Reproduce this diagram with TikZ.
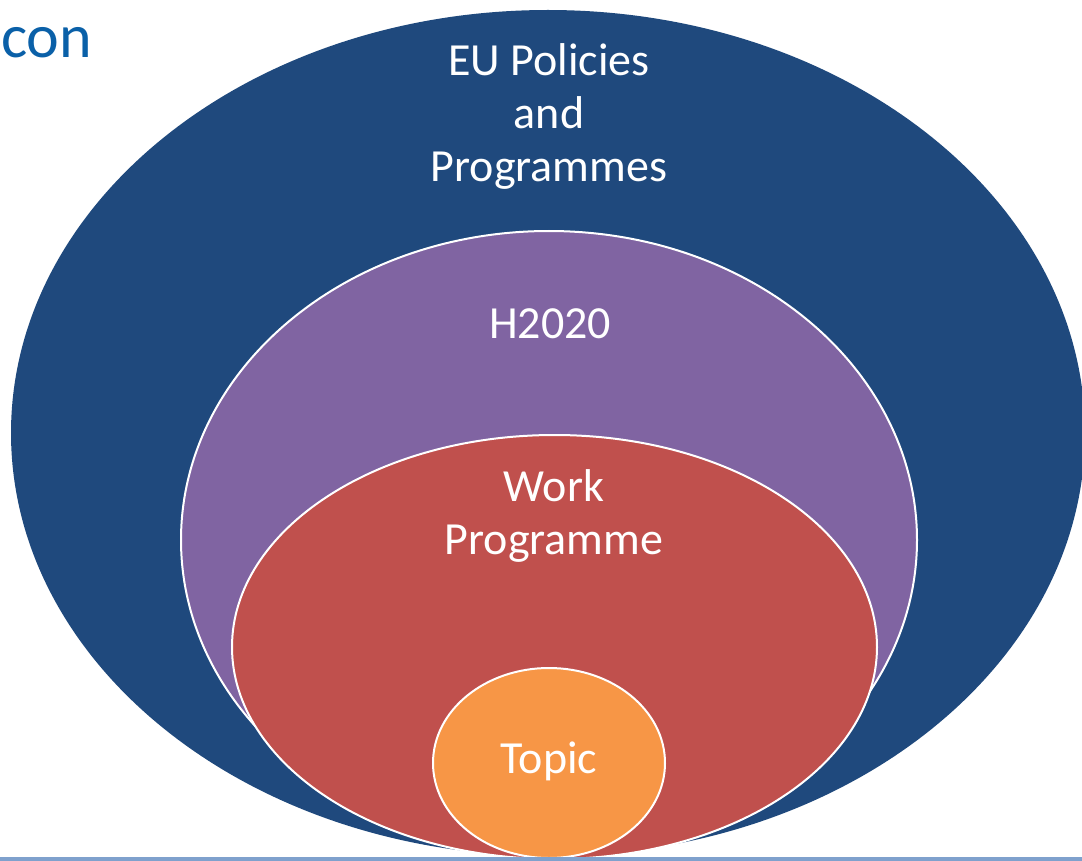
\documentclass[tikz,border=0pt]{standalone}
\usepackage{fontspec}
\setmainfont{Carlito}
\usetikzlibrary{shapes.geometric}
\definecolor{euBlue}{RGB}{31,73,125}
\definecolor{hPurple}{RGB}{128,100,162}
\definecolor{wpRed}{RGB}{192,80,77}
\definecolor{topicOrange}{RGB}{247,150,70}
\definecolor{titleBlue}{RGB}{10,96,168}
\definecolor{ruleBlue}{RGB}{127,161,205}
\tikzset{
  ring/.style={ellipse, inner sep=0pt, outer sep=0pt},
  inner ring/.style={ring, draw=white, line width=2pt},
  lbl/.style={text=white, align=center, inner sep=0pt, font=\fontsize{46}{53}\selectfont}
}
\begin{document}
\begin{tikzpicture}[x=1pt, y=-1pt]
\useasboundingbox (0,0) rectangle (1082,861);
\clip (0,0) rectangle (1082,861);
\node[anchor=base west, inner sep=0pt, text=titleBlue, font=\fontsize{62}{70}\selectfont] (title) at (1,58) {con};
\node[ring, fill=euBlue, minimum width=1074pt, minimum height=846pt] (eu) at (548,433) {};
\node[inner ring, fill=hPurple, minimum width=736pt, minimum height=618pt] (h2020) at (549,540) {};
\node[inner ring, fill=wpRed, minimum width=645pt, minimum height=424pt] (wp) at (554.5,647) {};
\node[inner ring, fill=topicOrange, minimum width=232pt, minimum height=190pt] (topic) at (549,763) {};
\fill[ruleBlue] (0,857) rectangle (1082,861);
\node[lbl] (eulbl) at (549,116) {EU Policies\\and\\Programmes};
\node[lbl] (hlbl) at (550,324) {H2020};
\node[lbl] (wplbl) at (554,516) {Work\\Programme};
\node[lbl] (tlbl) at (549,761) {Topic};
\end{tikzpicture}
\end{document}
